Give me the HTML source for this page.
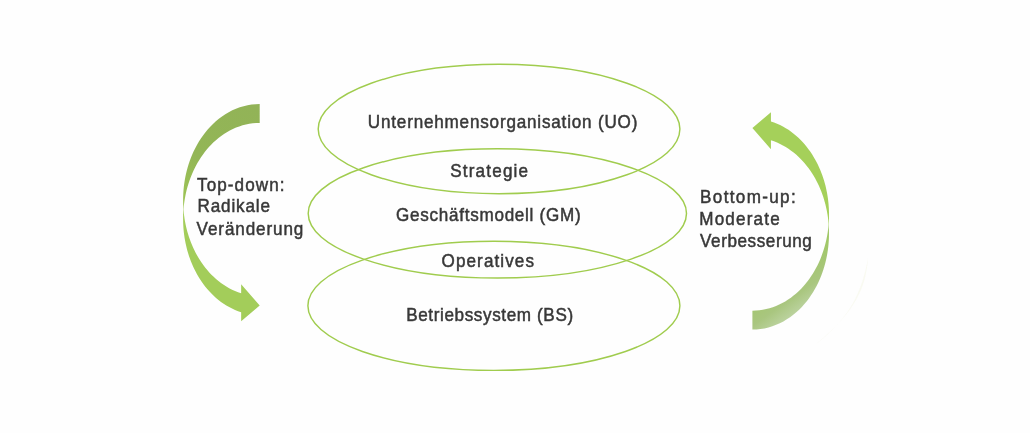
<!DOCTYPE html>
<html><head><meta charset="utf-8"><style>
html,body{margin:0;padding:0;background:#fefefe;width:1030px;height:433px;overflow:hidden}
svg{display:block}
text{font-family:"Liberation Sans",sans-serif;font-size:18px;fill:#383838;stroke:#383838;stroke-width:0.5px}
svg{will-change:transform}
</style></head><body>
<svg width="1030" height="433" viewBox="0 0 1030 433">
<defs>
<linearGradient id="gR" gradientUnits="userSpaceOnUse" x1="770" y1="280" x2="805" y2="330">
<stop offset="0" stop-color="#a0c866"/><stop offset="0.3" stop-color="#a6c677"/><stop offset="0.45" stop-color="#a9c67f"/><stop offset="0.7" stop-color="#bcd3a0"/><stop offset="1" stop-color="#d0dcc9"/>
</linearGradient>
<linearGradient id="gL" gradientUnits="userSpaceOnUse" x1="250" y1="104" x2="184" y2="205">
<stop offset="0" stop-color="#92b357"/><stop offset="0.6" stop-color="#93b656"/><stop offset="1" stop-color="#9dc455"/>
</linearGradient>
</defs>
<g fill="none" stroke="#a0cc4e" stroke-width="1.45">
<ellipse cx="499.05" cy="129.0" rx="180.85" ry="64.7"/>
<ellipse cx="497.35" cy="213.4" rx="189.15" ry="64.6"/>
<ellipse cx="493.9" cy="305.8" rx="186.0" ry="64.6"/>
</g>
<path d="M259.70,122.92 L259.70,122.92 L256.23,123.02 L252.76,123.31 L249.33,123.81 L245.93,124.49 L242.57,125.35 L239.28,126.40 L236.05,127.61 L232.90,128.99 L229.83,130.53 L226.85,132.20 L223.97,134.01 L221.19,135.94 L218.51,137.99 L215.95,140.13 L213.49,142.37 L211.14,144.69 L208.90,147.09 L206.77,149.55 L204.75,152.06 L202.83,154.63 L201.02,157.24 L199.32,159.88 L197.71,162.55 L196.21,165.25 L194.80,167.97 L193.48,170.70 L192.25,173.45 L191.11,176.21 L190.06,178.98 L189.09,181.75 L188.20,184.53 L187.39,187.31 L186.65,190.09 L185.99,192.87 L185.40,195.65 L184.88,198.43 L184.42,201.20 L184.04,203.98 L183.72,206.76 L183.47,209.53 L183.47,209.53 L183.26,206.28 L183.14,203.04 L183.10,199.79 L183.15,196.55 L183.29,193.31 L183.52,190.06 L183.83,186.81 L184.24,183.56 L184.74,180.31 L185.33,177.06 L186.02,173.80 L186.81,170.55 L187.70,167.29 L188.69,164.04 L189.79,160.80 L191.01,157.55 L192.34,154.32 L193.79,151.11 L195.37,147.91 L197.08,144.74 L198.92,141.60 L200.90,138.50 L203.02,135.45 L205.28,132.46 L207.69,129.54 L210.25,126.70 L212.97,123.95 L215.83,121.32 L218.84,118.81 L222.00,116.44 L225.30,114.24 L228.73,112.20 L232.29,110.36 L235.97,108.73 L239.76,107.31 L243.63,106.14 L247.58,105.21 L251.59,104.54 L255.63,104.14 L259.70,104.00 Z" fill="url(#gL)"/>
<path d="M183.10,200.07 L183.13,202.70 L183.22,205.34 L183.36,207.97 L183.56,210.60 L183.82,213.24 L184.14,215.87 L184.52,218.51 L184.97,221.15 L185.47,223.79 L186.04,226.43 L186.67,229.07 L187.37,231.71 L188.14,234.35 L188.98,236.98 L189.89,239.62 L190.88,242.25 L191.94,244.87 L193.08,247.48 L194.30,250.09 L195.60,252.68 L196.99,255.25 L198.47,257.80 L200.04,260.32 L201.70,262.82 L203.45,265.28 L205.30,267.71 L207.25,270.08 L209.29,272.40 L211.43,274.67 L213.67,276.87 L216.02,278.99 L218.46,281.03 L220.99,282.97 L223.62,284.82 L226.34,286.55 L229.15,288.17 L232.05,289.66 L235.02,291.02 L238.06,292.23 L241.16,293.29 L241.16,284.25 L259.70,305.60 L241.16,321.24 L241.16,312.21 L241.16,312.21 L238.06,311.15 L235.02,309.94 L232.05,308.58 L229.15,307.09 L226.34,305.47 L223.62,303.74 L220.99,301.89 L218.46,299.95 L216.02,297.91 L213.67,295.79 L211.43,293.59 L209.29,291.32 L207.25,289.00 L205.30,286.63 L203.45,284.20 L201.70,281.74 L200.04,279.24 L198.47,276.72 L196.99,274.17 L195.60,271.60 L194.30,269.01 L193.08,266.40 L191.94,263.79 L190.88,261.17 L189.89,258.54 L188.98,255.90 L188.14,253.27 L187.37,250.63 L186.67,247.99 L186.04,245.35 L185.47,242.71 L184.97,240.07 L184.52,237.43 L184.14,234.79 L183.82,232.16 L183.56,229.52 L183.36,226.89 L183.22,224.26 L183.13,221.62 L183.10,218.99 Z" fill="#a3cd5a"/>
<path d="M829.00,233.53 L828.97,230.90 L828.88,228.26 L828.74,225.63 L828.54,223.00 L828.28,220.36 L827.96,217.73 L827.58,215.09 L827.13,212.45 L826.63,209.81 L826.06,207.17 L825.43,204.53 L824.73,201.89 L823.96,199.25 L823.12,196.62 L822.21,193.98 L821.22,191.35 L820.16,188.73 L819.02,186.12 L817.80,183.51 L816.50,180.92 L815.11,178.35 L813.63,175.80 L812.06,173.28 L810.40,170.78 L808.65,168.32 L806.80,165.89 L804.85,163.52 L802.81,161.20 L800.67,158.93 L798.43,156.73 L796.08,154.61 L793.64,152.57 L791.11,150.63 L788.48,148.78 L785.76,147.05 L782.95,145.43 L780.05,143.94 L777.08,142.58 L774.04,141.37 L770.94,140.31 L770.94,149.35 L752.40,128.00 L770.94,112.36 L770.94,121.39 L770.94,121.39 L774.04,122.45 L777.08,123.66 L780.05,125.02 L782.95,126.51 L785.76,128.13 L788.48,129.86 L791.11,131.71 L793.64,133.65 L796.08,135.69 L798.43,137.81 L800.67,140.01 L802.81,142.28 L804.85,144.60 L806.80,146.97 L808.65,149.40 L810.40,151.86 L812.06,154.36 L813.63,156.88 L815.11,159.43 L816.50,162.00 L817.80,164.59 L819.02,167.20 L820.16,169.81 L821.22,172.43 L822.21,175.06 L823.12,177.70 L823.96,180.33 L824.73,182.97 L825.43,185.61 L826.06,188.25 L826.63,190.89 L827.13,193.53 L827.58,196.17 L827.96,198.81 L828.28,201.44 L828.54,204.08 L828.74,206.71 L828.88,209.34 L828.97,211.98 L829.00,214.61 Z" fill="#a5d05a"/>
<path d="M752.40,310.68 L752.40,310.68 L755.87,310.58 L759.34,310.29 L762.77,309.79 L766.17,309.11 L769.53,308.25 L772.82,307.20 L776.05,305.99 L779.20,304.61 L782.27,303.07 L785.25,301.40 L788.13,299.59 L790.91,297.66 L793.59,295.61 L796.15,293.47 L798.61,291.23 L800.96,288.91 L803.20,286.51 L805.33,284.05 L807.35,281.54 L809.27,278.97 L811.08,276.36 L812.78,273.72 L814.39,271.05 L815.89,268.35 L817.30,265.63 L818.62,262.90 L819.85,260.15 L820.99,257.39 L822.04,254.62 L823.01,251.85 L823.90,249.07 L824.71,246.29 L825.45,243.51 L826.11,240.73 L826.70,237.95 L827.22,235.17 L827.68,232.40 L828.06,229.62 L828.38,226.84 L828.63,224.07 L828.63,224.07 L828.84,227.32 L828.96,230.56 L829.00,233.81 L828.95,237.05 L828.81,240.29 L828.58,243.54 L828.27,246.79 L827.86,250.04 L827.36,253.29 L826.77,256.54 L826.08,259.80 L825.29,263.05 L824.40,266.31 L823.41,269.56 L822.31,272.80 L821.09,276.05 L819.76,279.28 L818.31,282.49 L816.73,285.69 L815.02,288.86 L813.18,292.00 L811.20,295.10 L809.08,298.15 L806.82,301.14 L804.41,304.06 L801.85,306.90 L799.13,309.65 L796.27,312.28 L793.26,314.79 L790.10,317.16 L786.80,319.36 L783.37,321.40 L779.81,323.24 L776.13,324.87 L772.34,326.29 L768.47,327.46 L764.52,328.39 L760.51,329.06 L756.47,329.46 L752.40,329.60 Z" fill="url(#gR)"/>
<path d="M868,258 C866,285 858,310 815,345 C850,318 862,292 868,258 Z" fill="#f7f9ee" opacity="0.8"/>
<g>
<text transform="translate(367.80,127.90) scale(0.95,1)" textLength="283.8" lengthAdjust="spacing">Unternehmensorganisation (UO)</text>
<text transform="translate(450.20,176.60) scale(0.95,1)" textLength="82.0" lengthAdjust="spacing">Strategie</text>
<text transform="translate(396.00,221.20) scale(0.95,1)" textLength="194.4" lengthAdjust="spacing">Geschäftsmodell (GM)</text>
<text transform="translate(441.60,267.10) scale(0.95,1)" textLength="97.2" lengthAdjust="spacing">Operatives</text>
<text transform="translate(406.20,321.20) scale(0.95,1)" textLength="175.7" lengthAdjust="spacing">Betriebssystem (BS)</text>
<text transform="translate(197.00,190.50) scale(0.95,1)" textLength="92.2" lengthAdjust="spacing">Top-down:</text>
<text transform="translate(197.50,212.40) scale(0.95,1)" textLength="76.3" lengthAdjust="spacing">Radikale</text>
<text transform="translate(196.60,234.70) scale(0.95,1)" textLength="112.4" lengthAdjust="spacing">Veränderung</text>
<text transform="translate(700.10,202.70) scale(0.95,1)" textLength="100.6" lengthAdjust="spacing">Bottom-up:</text>
<text transform="translate(699.30,224.90) scale(0.95,1)" textLength="84.6" lengthAdjust="spacing">Moderate</text>
<text transform="translate(700.10,247.00) scale(0.95,1)" textLength="117.6" lengthAdjust="spacing">Verbesserung</text>
</g>
</svg>
</body></html>
